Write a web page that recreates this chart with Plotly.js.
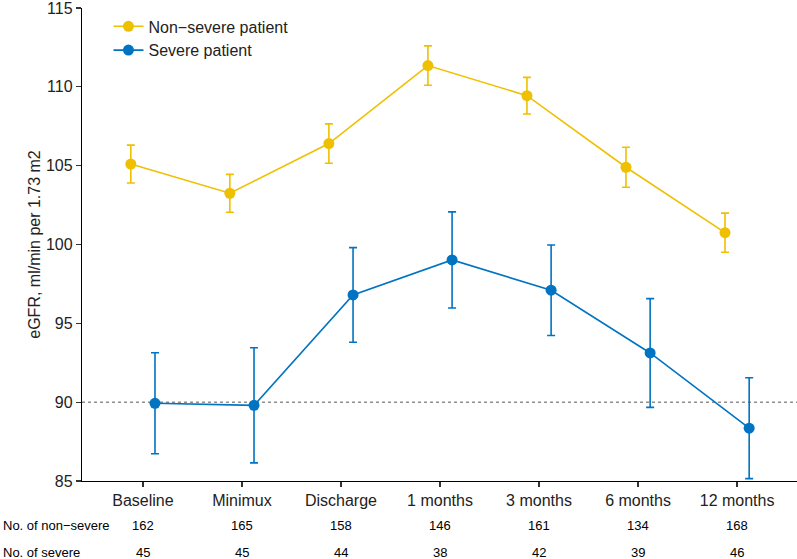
<!DOCTYPE html>
<html>
<head>
<meta charset="utf-8">
<script src="https://cdn.plot.ly/plotly-3.0.1.min.js"></script>
<style>html,body{margin:0;padding:0;background:#fff;}#chart{width:797px;height:559px;}</style>
</head>
<body>
<div id="chart"></div>
<script>
const categories = ["Baseline", "Minimux", "Discharge", "1 months", "3 months", "6 months", "12 months"];
const nonSevereMean = [105.1, 103.25, 106.4, 111.35, 109.44, 104.9, 100.75];
const nonSevereErr  = [1.2, 1.2, 1.25, 1.25, 1.16, 1.27, 1.24];
const severeMean = [89.93, 89.8, 96.8, 99.02, 97.1, 93.12, 88.35];
const severeErr  = [3.2, 3.65, 3.0, 3.05, 2.87, 3.45, 3.2];
const nNonSevere = [162, 165, 158, 146, 161, 134, 168];
const nSevere = [45, 45, 44, 38, 42, 39, 46];
const rowLabels = ["No. of non\u2212severe", "No. of severe"];
const seriesNames = ["Non\u2212severe patient", "Severe patient"];

const dodge = 0.122;
const idx = categories.map((c, i) => i);
const font = "Liberation Sans, Arial, sans-serif";

const traces = [
  {
    type: "scatter", mode: "lines+markers", name: seriesNames[0],
    x: idx.map(i => i - dodge), y: nonSevereMean,
    line: {color: "#EFC000", width: 1.6},
    marker: {color: "#EFC000", size: 11},
    error_y: {type: "data", array: nonSevereErr, visible: true, color: "#EFC000", thickness: 1.6, width: 4}
  },
  {
    type: "scatter", mode: "lines+markers", name: seriesNames[1],
    x: idx.map(i => i + dodge), y: severeMean,
    line: {color: "#0073C2", width: 1.6},
    marker: {color: "#0073C2", size: 11},
    error_y: {type: "data", array: severeErr, visible: true, color: "#0073C2", thickness: 1.6, width: 4}
  }
];

const annotations = [];
[nNonSevere, nSevere].forEach((row, r) => {
  const ys = r === 0 ? -44 : -71;
  row.forEach((n, i) => {
    annotations.push({
      xref: "x", yref: "paper", x: idx[i], y: 0, yanchor: "middle", xanchor: "center",
      yshift: ys, text: String(n), showarrow: false,
      font: {family: font, size: 13, color: "#000"}
    });
  });
  annotations.push({
    xref: "paper", yref: "paper", x: 0, y: 0, xanchor: "left", yanchor: "middle",
    xshift: -81, yshift: ys, text: rowLabels[r], showarrow: false,
    font: {family: font, size: 13, color: "#000"}
  });
});

const layout = {
  width: 797, height: 559,
  margin: {l: 82, r: 0, t: 8, b: 78},
  paper_bgcolor: "#fff", plot_bgcolor: "#fff",
  font: {family: font, color: "#000"},
  showlegend: true,
  legend: {x: 0.037, y: 0.997, xanchor: "left", yanchor: "top", bgcolor: "rgba(0,0,0,0)",
           font: {family: font, size: 16, color: "#222"}, itemwidth: 30, tracegroupgap: 0},
  xaxis: {
    range: [-0.615, 6.605], tickmode: "array", tickvals: idx, ticktext: categories,
    showgrid: false, zeroline: false, showline: true, linecolor: "#000", linewidth: 1.2,
    ticks: "outside", ticklen: 5, tickcolor: "#333", tickwidth: 1.2,
    tickfont: {family: font, size: 16, color: "#222"}
  },
  yaxis: {
    range: [85, 115], tickvals: [85, 90, 95, 100, 105, 110, 115],
    ticklabeloverflow: "allow",
    showgrid: false, zeroline: false, showline: true, linecolor: "#000", linewidth: 1.2,
    ticks: "outside", ticklen: 5, tickcolor: "#333", tickwidth: 1.2,
    tickfont: {family: font, size: 16, color: "#222"},
    title: {text: "eGFR, ml/min per 1.73 m2", font: {family: font, size: 16, color: "#222"}, standoff: 1}
  },
  shapes: [{
    type: "line", xref: "paper", yref: "y", x0: 0, x1: 1, y0: 90, y1: 90,
    line: {color: "#555", width: 1, dash: "dot"}, layer: "below"
  }],
  annotations: annotations
};

Plotly.newPlot("chart", traces, layout, {displayModeBar: false, staticPlot: true});
</script>
</body>
</html>
